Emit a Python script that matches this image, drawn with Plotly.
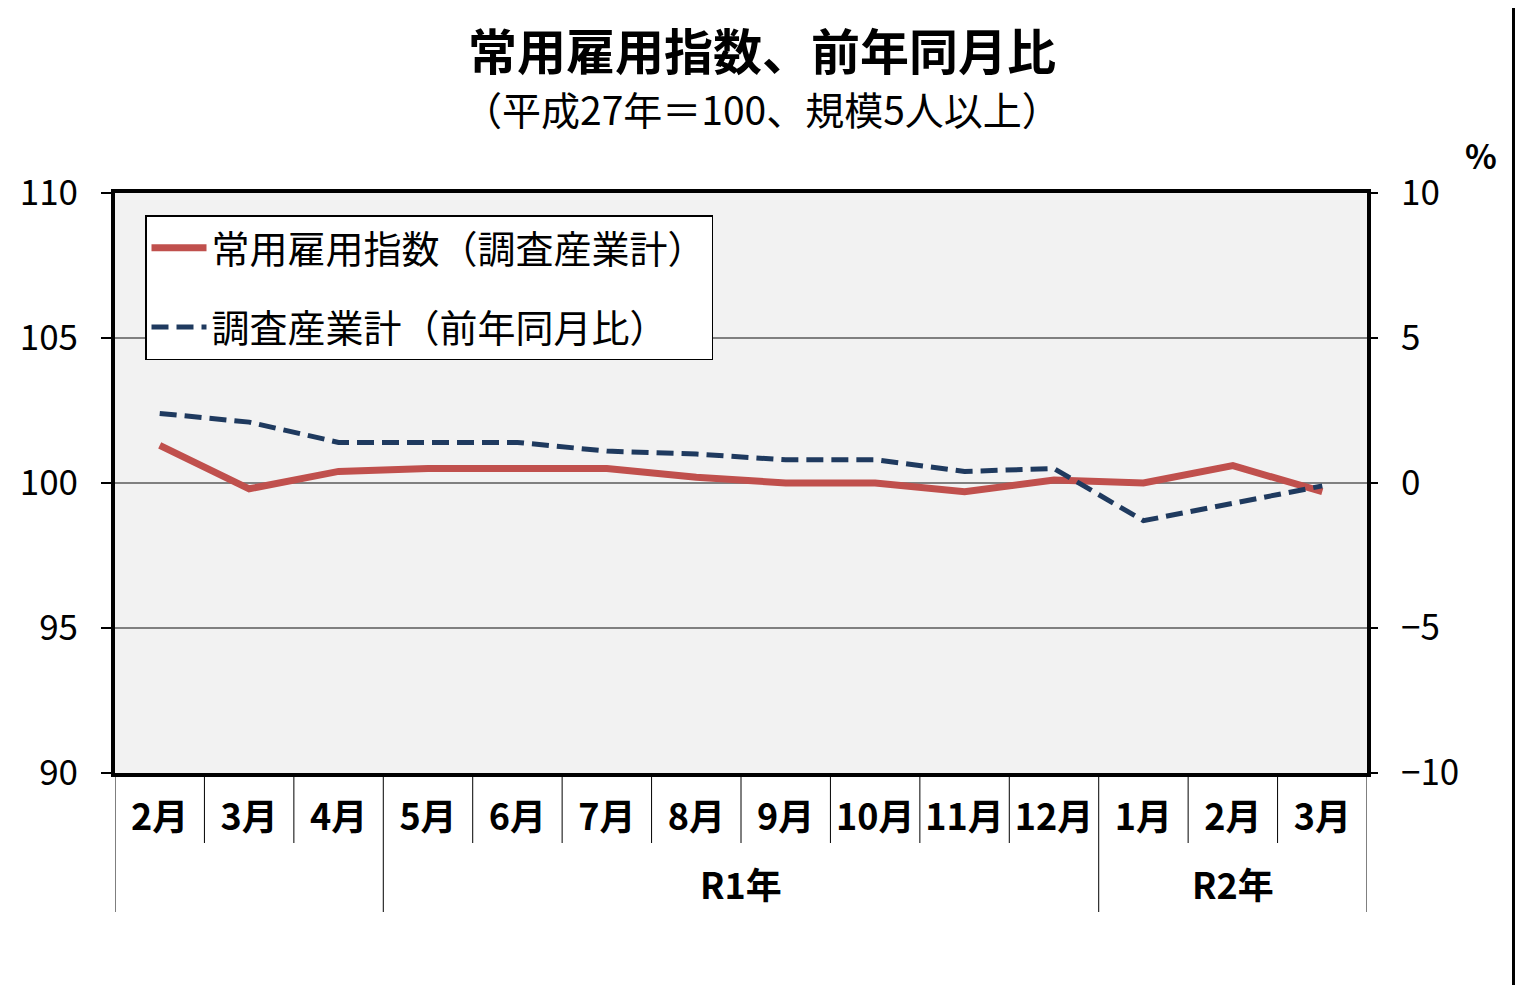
import plotly.graph_objects as go

months = ["2月", "3月", "4月", "5月", "6月", "7月", "8月", "9月", "10月", "11月", "12月", "1月", "2月", "3月"]
year_groups = ["", "R1年", "R2年"]
group_start = [0, 3, 11]
group_end = [2, 10, 13]
index_values = [101.3, 99.8, 100.4, 100.5, 100.5, 100.5, 100.2, 100.0, 100.0, 99.7, 100.1, 100.0, 100.6, 99.7]
yoy_values = [2.4, 2.1, 1.4, 1.4, 1.4, 1.1, 1.0, 0.8, 0.8, 0.4, 0.5, -1.3, -0.7, -0.1]
name_index = "常用雇用指数（調査産業計）"
name_yoy = "調査産業計（前年同月比）"

FONT = "Noto Sans CJK JP"
OFF = 8  # page body margin
W, H = 1525 - OFF, 993 - 2 * OFF
# plot area in window pixels
L, R, T, B = 115, 1367, 193, 773
PW, PH = R - L, B - T

def px_x(p):
    return (p - L) / PW

def px_y(p):
    return (B - p) / PH

xs = list(range(len(months)))

fig = go.Figure()
fig.add_trace(go.Scatter(
    x=xs, y=index_values, name=name_index, mode="lines",
    line=dict(color="#c0504d", width=7), yaxis="y", legendgroup="a"))
fig.add_trace(go.Scatter(
    x=xs, y=yoy_values, name=name_yoy, mode="lines",
    line=dict(color="#1f3a5f", width=5, dash="17px,8px"), yaxis="y2", legendgroup="b"))

shapes = []
for i in range(len(months) + 1):
    xpos = i - 0.5
    is_group = (i == 0) or (i == len(months)) or (i in group_start)
    shapes.append(dict(type="line", xref="x", yref="paper",
                       x0=xpos, x1=xpos, y0=0, y1=px_y(912 if is_group else 843),
                       line=dict(color="black", width=1)))
shapes.append(dict(type="line", xref="paper", yref="paper",
                   x0=px_x(1513.5), x1=px_x(1513.5), y0=px_y(OFF), y1=px_y(OFF + H),
                   line=dict(color="black", width=3)))

annotations = []
for g, s, e in zip(year_groups, group_start, group_end):
    if g:
        annotations.append(dict(text=g, xref="x", yref="paper", x=(s + e) / 2, y=px_y(883),
                                showarrow=False, xanchor="center", yanchor="middle",
                                font=dict(family=FONT, size=36, color="black", weight="bold")))
annotations.append(dict(text="常用雇用指数、前年同月比", xref="paper", yref="paper",
                        x=px_x(762), y=px_y(49), showarrow=False, xanchor="center", yanchor="middle",
                        font=dict(family=FONT, size=49, color="black", weight="bold")))
annotations.append(dict(text="（平成27年＝100、規模5人以上）", xref="paper", yref="paper",
                        x=px_x(762), y=px_y(108), showarrow=False, xanchor="center", yanchor="middle",
                        font=dict(family=FONT, size=39, color="black")))
annotations.append(dict(text="%", xref="paper", yref="paper",
                        x=px_x(1481), y=px_y(155), showarrow=False, xanchor="center", yanchor="middle",
                        font=dict(family=FONT, size=33, color="black", weight="bold")))

fig.update_layout(
    width=W, height=H,
    margin=dict(l=L - OFF, r=W - (R - OFF), t=T - OFF, b=H - (B - OFF), pad=0),
    paper_bgcolor="white", plot_bgcolor="#f2f2f2",
    font=dict(family=FONT, color="black"),
    showlegend=True,
    legend=dict(x=px_x(145), y=px_y(215), xanchor="left", yanchor="top",
                bgcolor="white", bordercolor="black", borderwidth=1.5,
                font=dict(family=FONT, size=38, color="black"),
                tracegroupgap=27, itemwidth=55),
    xaxis=dict(range=[-0.5, len(months) - 0.5], tickmode="array", tickvals=xs, ticktext=months,
               showgrid=False, zeroline=False, showline=True, linecolor="black", linewidth=4,
               mirror=True, ticks="", ticklabelstandoff=10,
               tickfont=dict(family=FONT, size=36, color="black", weight="bold")),
    yaxis=dict(range=[90, 110], tickmode="array", tickvals=[90, 95, 100, 105, 110],
               showgrid=True, gridcolor="#808080", gridwidth=1.5, zeroline=False,
               showline=True, linecolor="black", linewidth=4, mirror=True,
               ticks="outside", ticklen=10, tickcolor="black", tickwidth=1.5,
               ticklabelstandoff=16,
               tickfont=dict(family=FONT, size=35, color="black")),
    yaxis2=dict(range=[-10, 10], overlaying="y", side="right", tickmode="array",
                tickvals=[-10, -5, 0, 5, 10], showgrid=False, zeroline=False,
                ticks="outside", ticklen=10, tickcolor="black", tickwidth=1.5,
                ticklabelstandoff=16,
                tickfont=dict(family=FONT, size=35, color="black")),
    shapes=shapes, annotations=annotations,
)

fig.write_html("out.html")
